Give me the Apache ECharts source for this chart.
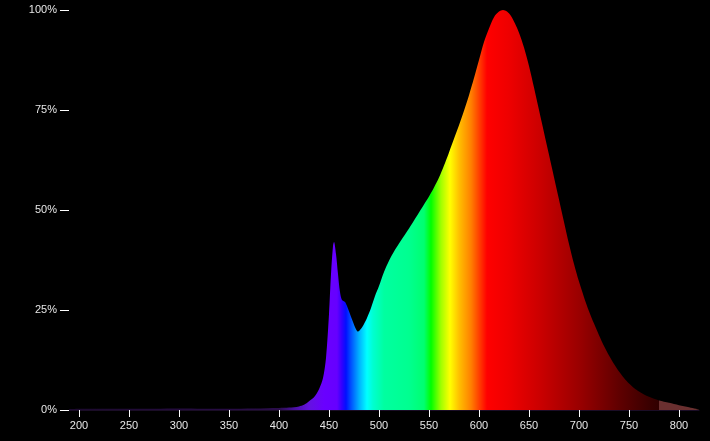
<!DOCTYPE html>
<html><head><meta charset="utf-8">
<script src="https://cdn.jsdelivr.net/npm/echarts@6/dist/echarts.min.js"></script>
<style>html,body{margin:0;padding:0;background:#000;}#c{width:710px;height:441px;}</style>
</head><body><div id="c"></div>
<script>
// Wavelength (nm) and relative intensity (%)
const wavelengths = [190,200,250,300,350,400,410,420,425,430,435,440,444,447,450,452,454,455,457,459,461,463,466,468,471,474,477,479,482,485,488,492,496,500,505,510,515,520,525,530,535,540,545,550,555,560,565,570,575,580,585,590,595,600,605,610,615,620,624,628,632,636,640,645,650,655,660,665,670,675,680,685,690,695,700,705,710,715,720,725,730,735,740,745,750,755,760,765,770,775,780,790,800,810,817,820];
const intensity =   [0.2,0.3,0.3,0.4,0.3,0.5,0.6,0.9,1.3,2.2,3.2,5.2,8,13,24,34,41,42,39,34,29.5,27.5,27,26,24,22,20.2,19.6,20.3,21.5,23,25.5,28.5,31,34.5,37.3,39.6,41.6,43.5,45.4,47.4,49.4,51.4,53.4,55.6,58.1,61.1,64.4,67.8,71.2,74.8,78.7,83,87.5,92,95.4,98.2,99.6,100,99.6,98.5,96.6,94.3,90.6,86,80.6,75,69.4,63.8,58.2,52.6,47,41.5,36.5,32.1,28.2,24.7,21.6,18.7,16,13.6,11.5,9.6,8,6.6,5.5,4.6,3.9,3.3,2.8,2.4,1.8,1.2,0.7,0.3,0.2];
const xTicks = [200,250,300,350,400,450,500,550,600,650,700,750,800];
const yTicks = [0,25,50,75,100];

const xMin = 190, xMax = 820;
const colorStops = [
  [190,'#1c0a2e'],[400,'#2a0d4a'],[415,'#4a10a0'],[430,'#6412e0'],[445,'#6a00ff'],
  [458,'#6600ff'],[463,'#3000ff'],[467,'#0010ff'],[472,'#0050ff'],[480,'#00b0ff'],
  [488,'#00ffff'],[494,'#00ffd0'],[505,'#00ffa0'],[530,'#00ff90'],[545,'#00ff70'],
  [552,'#00ff00'],[562,'#a0ff00'],[571,'#ffff00'],[580,'#ffc000'],[592,'#ff8000'],
  [602,'#ff3000'],[608,'#ff0000'],[630,'#ee0000'],[660,'#cc0000'],[700,'#9a0000'],
  [740,'#600000'],[770,'#3a0000'],[780,'#300000'],[780,'#6a3030'],[820,'#6a3030']
].map(([nm,c]) => ({offset:(nm - xMin)/(xMax - xMin), color:c}));

const data = wavelengths.map((w,i) => [w, intensity[i]]);
const chart = echarts.init(document.getElementById('c'), null, {renderer:'canvas'});
chart.setOption({
  backgroundColor:'#000',
  animation:false,
  grid:{left:69, right:11, top:10, bottom:31},
  xAxis:{
    type:'value', min:xMin, max:xMax, interval:10,
    splitLine:{show:false},
    axisLine:{show:true, lineStyle:{color:'#1a0d26', width:1}},
    axisTick:{show:true, length:7, lineStyle:{color:'#ffffff'}, customValues:xTicks},
    axisLabel:{color:'#e6e6e6', fontSize:11, fontFamily:'Liberation Sans, Arial', margin:10, customValues:xTicks}
  },
  yAxis:{
    type:'value', min:0, max:100, interval:25,
    splitLine:{show:false},
    axisLine:{show:false},
    axisTick:{show:true, length:9, lineStyle:{color:'#ffffff'}, customValues:yTicks},
    axisLabel:{color:'#e6e6e6', fontSize:11, fontFamily:'Liberation Sans, Arial', margin:12, formatter:'{value}%', customValues:yTicks}
  },
  series:[{
    type:'line', data:data, smooth:0.3, showSymbol:false,
    lineStyle:{width:0},
    areaStyle:{opacity:1, color:new echarts.graphic.LinearGradient(0,0,1,0,colorStops)}
  }]
});
</script></body></html>
